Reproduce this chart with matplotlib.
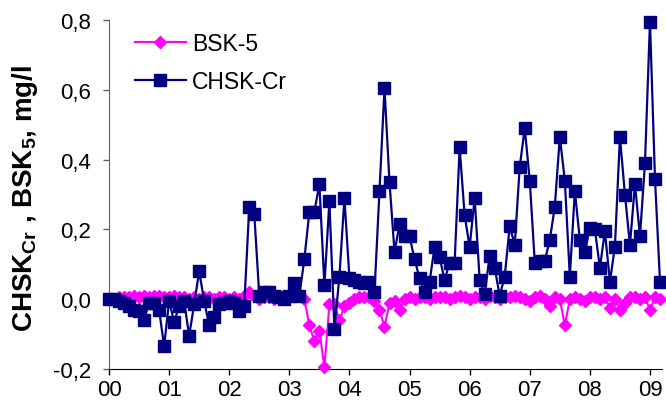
import matplotlib
matplotlib.use("Agg")
import matplotlib.pyplot as plt
import numpy as np

plt.rcParams['font.family'] = ['Liberation Sans', 'DejaVu Sans']
plt.rcParams['mathtext.fontset'] = 'custom'
plt.rcParams['mathtext.rm'] = 'Liberation Sans'
plt.rcParams['mathtext.bf'] = 'Liberation Sans:bold'

year_labels = ["00", "01", "02", "03", "04", "05", "06", "07", "08", "09"]

bsk5 = [
    0.0, 0.0, 0.005, 0.005, 0.005, 0.01, 0.005, 0.01, 0.005, 0.01, 0.01, 0.005,
    0.005, 0.01, 0.005, 0.005, 0.0, 0.005, 0.0, 0.005, 0.005, 0.0, 0.005, 0.005,
    0.0, 0.005, 0.0, 0.01, 0.02, 0.01, 0.0, 0.005, 0.005, 0.0, 0.005, 0.01,
    0.01, 0.015, 0.01, 0.0, -0.075, -0.12, -0.09, -0.195, -0.015, -0.015, -0.06, -0.02,
    -0.01, 0.0, 0.005, 0.005, 0.005, -0.005, -0.03, -0.08, -0.01, -0.005, -0.03, 0.0,
    0.005, 0.0, 0.005, 0.005, 0.0, 0.005, 0.005, 0.005, 0.0, 0.005, 0.01, 0.005,
    0.0, 0.005, 0.005, 0.0, 0.01, 0.005, 0.0, 0.005, 0.005, 0.01, 0.005, 0.0,
    -0.005, 0.005, 0.01, 0.0, -0.02, 0.005, 0.0, -0.075, 0.0, 0.005, 0.0, -0.005,
    0.005, 0.005, 0.0, 0.005, -0.025, 0.0, -0.03, -0.01, 0.005, 0.005, 0.0, 0.005,
    -0.03, 0.005, 0.0,
]

chsk_cr = [
    0.0, 0.0, -0.005, -0.01, -0.02, -0.03, -0.035, -0.06, -0.01, -0.01, -0.03, -0.135,
    -0.005, -0.065, -0.02, -0.005, -0.105, -0.015, 0.08, -0.005, -0.075, -0.05, -0.015, -0.01,
    -0.005, -0.01, -0.035, -0.02, 0.265, 0.245, 0.01, 0.02, 0.02, 0.01, 0.005, 0.0,
    0.01, 0.045, 0.01, 0.115, 0.25, 0.25, 0.33, 0.04, 0.28, -0.085, 0.065, 0.29,
    0.06, 0.055, 0.05, 0.045, 0.05, 0.02, 0.31, 0.605, 0.335, 0.135, 0.215, 0.18,
    0.18, 0.115, 0.06, 0.02, 0.05, 0.15, 0.12, 0.055, 0.105, 0.105, 0.435, 0.24,
    0.15, 0.29, 0.055, 0.015, 0.125, 0.09, 0.01, 0.065, 0.21, 0.155, 0.38, 0.49,
    0.34, 0.105, 0.11, 0.11, 0.17, 0.265, 0.465, 0.34, 0.065, 0.31, 0.17, 0.135,
    0.205, 0.2, 0.09, 0.195, 0.05, 0.15, 0.465, 0.3, 0.155, 0.33, 0.18, 0.39,
    0.795, 0.345, 0.05,
]

months = np.arange(len(chsk_cr))

fig = plt.figure(figsize=(6.66, 4.14), dpi=100)
ax = fig.add_axes([109/666, 1 - 370/414, (662 - 109)/666, (370 - 21)/414])

ax.plot(months, bsk5, color='#FF00FF', lw=1.5, marker='D', ms=6.5,
        mec='#FF00FF', mfc='#FF00FF', label='BSK-5', clip_on=False, zorder=3)
ax.plot(months, chsk_cr, color='#000080', lw=1.6, marker='s', ms=8.5,
        mec='#000080', mfc='#000080', label='CHSK-Cr', clip_on=False, zorder=4)

ax.set_xlim(0, 110.4)
ax.set_ylim(-0.2, 0.8)
ax.set_xticks(np.arange(len(year_labels)) * 12)
ax.set_xticklabels(year_labels, fontsize=16)
yt = np.arange(-0.2, 0.81, 0.2)
ax.set_yticks(yt)
ax.set_yticklabels([f"{v:.1f}".replace('.', ',').replace('-0,0', '0,0') for v in yt], fontsize=16)

ax.spines['top'].set_visible(False)
ax.spines['right'].set_visible(False)
ax.spines['left'].set_color('#606060')
ax.spines['bottom'].set_color('#000000')
ax.tick_params(axis='both', direction='out', length=4, width=1)
ax.tick_params(axis='y', colors='#606060', labelcolor='black', pad=9)
ax.tick_params(axis='x', pad=3)

fig.text(25/666, 1 - 198/414, r'CHSK$_{\mathbf{Cr}}$ , BSK$_{\mathbf{5}}$, mg/l',
         fontsize=20, fontweight='bold', rotation=90, ha='center', va='center')

ax.legend(loc='upper left', bbox_to_anchor=(0.009, 1.026), frameon=False, fontsize=16.5,
          handlelength=2.26, handletextpad=0.25, labelspacing=0.68)

fig.savefig('out.png', dpi=100)
